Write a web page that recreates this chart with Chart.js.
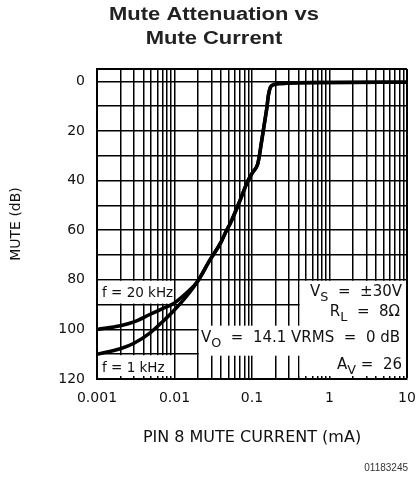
<!DOCTYPE html>
<html>
<head>
<meta charset="utf-8">
<script src="https://cdn.jsdelivr.net/npm/chart.js@4.4.0/dist/chart.umd.min.js"></script>
<style>
  body { margin: 0; background: #fff; }
</style>
</head>
<body>
<canvas id="grafico" width="417" height="480"></canvas>
<script>
const tituloLinhas = ['Mute Attenuation vs', 'Mute Current'];
const rotuloX = 'PIN 8 MUTE CURRENT (mA)';
const rotuloY = 'MUTE (dB)';
const rodape = '01183245';

// curva f = 20 kHz (parte baixa)
const corrente20k = [0.001, 0.002, 0.003, 0.0048, 0.007, 0.0095, 0.014, 0.0195];
const mute20k = [100, 98.5, 97.0, 94.0, 91.6, 89.8, 85.5, 81.0];
// curva f = 1 kHz (parte baixa)
const corrente1k = [0.001, 0.002, 0.003, 0.0048, 0.007, 0.0095, 0.014, 0.0195];
const mute1k = [110, 107.8, 105.6, 101.5, 96.9, 92.9, 87.0, 81.0];
// trecho comum as duas curvas
const correnteComum = [0.0287, 0.04, 0.047, 0.052, 0.068, 0.089, 0.103, 0.118, 0.123, 0.131, 0.139, 0.148, 0.156, 0.163, 0.172, 0.19, 0.25, 1, 10];
const muteComum = [72.0, 64.7, 60.0, 57.5, 49.0, 40.0, 36.5, 33.5, 30.9, 25.5, 20.4, 15.0, 10.3, 5.5, 2.5, 1.3, 0.8, 0.4, 0.3];

const decadas = [0.001, 0.01, 0.1, 1, 10];
const rotulosDecadas = ['0.001', '0.01', '0.1', '1', '10'];
const gradeY = [-5, 0, 10, 20, 30, 40, 50, 60, 70, 80, 90, 100, 110, 120];
const rotulosY = ['0', '20', '40', '60', '80', '100', '120'];

const pontos = (xs, ys) => xs.map((v, i) => ({x: v, y: ys[i]}));

const fonteTexto = (tam) => tam + 'px "DejaVu Sans", sans-serif';

// escreve texto com subscrito, alinhado pela direita ou esquerda
function textoSub(ctx, partes, xRef, yBase, tam, alinhar) {
    let larg = 0;
    for (const p of partes) {
        ctx.font = fonteTexto(p[1] ? tam * 0.85 : tam);
        larg += ctx.measureText(p[0]).width;
    }
    let xx = alinhar === 'right' ? xRef - larg : xRef;
    ctx.textAlign = 'left';
    ctx.textBaseline = 'alphabetic';
    for (const p of partes) {
        ctx.font = fonteTexto(p[1] ? tam * 0.85 : tam);
        ctx.fillText(p[0], xx, yBase + (p[1] ? 5 : 0));
        xx += ctx.measureText(p[0]).width;
    }
}

const caixasPlugin = {
    id: 'caixas',
    beforeDatasetsDraw(chart) {
        const {ctx, chartArea, scales: {x, y}} = chart;
        const ret = (x1, y1, x2, y2) => ctx.fillRect(x1, y1, x2 - x1, y2 - y1);
        ctx.save();
        ctx.fillStyle = '#fff';
        // f = 20 kHz
        ret(chartArea.left + 1.5, y.getPixelForValue(80) + 1, x.getPixelForValue(0.01) - 1, y.getPixelForValue(90) - 1);
        // f = 1 kHz
        ret(chartArea.left + 1.5, y.getPixelForValue(110) + 1, x.getPixelForValue(0.01) - 1, chartArea.bottom - 3);
        // Vs / Rl
        ret(x.getPixelForValue(0.4) + 1, y.getPixelForValue(80) + 1, chartArea.right - 1, y.getPixelForValue(100));
        // Vo
        ret(x.getPixelForValue(0.02) + 1, y.getPixelForValue(98.5), chartArea.right - 1, y.getPixelForValue(110) + 1.5);
        // Av
        ret(x.getPixelForValue(0.4) + 1, y.getPixelForValue(110), chartArea.right - 1, chartArea.bottom - 3);
        ctx.restore();
    },
    afterDatasetsDraw(chart) {
        const {ctx, chartArea, scales: {y}} = chart;
        ctx.save();
        ctx.fillStyle = '#111';
        const esq = chartArea.left + 5;
        const dir = chartArea.right - 5;
        textoSub(ctx, [['f = 20 kHz']], esq, y.getPixelForValue(87), 13.5, 'left');
        textoSub(ctx, [['f = 1 kHz']], esq, y.getPixelForValue(117.2), 13.5, 'left');
        textoSub(ctx, [['V'], ['S', true], ['  =  ±30V']], dir, y.getPixelForValue(86.5), 15, 'right');
        textoSub(ctx, [['R'], ['L', true], ['  =  8Ω']], dir - 2, y.getPixelForValue(94.6), 15, 'right');
        textoSub(ctx, [['V'], ['O', true], ['  =  14.1 VRMS  =  0 dB']], dir - 2, y.getPixelForValue(105), 15, 'right');
        textoSub(ctx, [['A'], ['V', true], [' =  26']], dir, y.getPixelForValue(116), 15, 'right');
        ctx.restore();
    }
};

const tituloPlugin = {
    id: 'titulo',
    afterDraw(chart) {
        const ctx = chart.ctx;
        ctx.save();
        ctx.fillStyle = '#222';
        ctx.font = 'bold 18px "Liberation Sans", Arial, sans-serif';
        ctx.textAlign = 'center';
        ctx.textBaseline = 'alphabetic';
        tituloLinhas.forEach((t, i) => {
            ctx.save();
            ctx.translate(214, 19.5 + i * 24);
            ctx.scale(1.22, 1);
            ctx.fillText(t, 0, 0);
            ctx.restore();
        });
        ctx.font = '10px "Liberation Sans", Arial, sans-serif';
        ctx.textAlign = 'right';
        ctx.fillStyle = '#333';
        ctx.fillText(rodape, 408, 471);
        ctx.restore();
    }
};

const estiloCurva = {
    borderColor: '#000',
    borderWidth: 3.5,
    pointRadius: 0,
    fill: false,
    cubicInterpolationMode: 'monotone'
};

const grafico = new Chart(document.getElementById('grafico'), {
    type: 'line',
    data: {
        datasets: [
            Object.assign({label: 'f = 20 kHz', data: pontos(corrente20k.concat(correnteComum), mute20k.concat(muteComum))}, estiloCurva),
            Object.assign({label: 'f = 1 kHz', data: pontos(corrente1k.concat(correnteComum), mute1k.concat(muteComum))}, estiloCurva)
        ]
    },
    options: {
        responsive: false,
        animation: false,
        layout: {padding: {top: 69, right: 0, bottom: 0, left: 0}},
        plugins: {
            legend: {display: false},
            tooltip: {enabled: false}
        },
        scales: {
            x: {
                type: 'logarithmic',
                min: 0.001,
                max: 10,
                afterBuildTicks: (eixo) => {
                    const ticks = [];
                    for (let d = 0; d < decadas.length - 1; d++) {
                        for (let k = 1; k <= 9; k++) ticks.push({value: decadas[d] * k});
                    }
                    ticks.push({value: decadas[decadas.length - 1]});
                    eixo.ticks = ticks;
                },
                afterFit: (eixo) => {
                    eixo.height = 101;
                    eixo.paddingRight = 10;
                    eixo.paddingLeft = 0;
                },
                grid: {
                    color: '#000',
                    lineWidth: (c) => (c.tick && c.tick.value === 10) ? 2 : 1.5,
                    drawTicks: false
                },
                border: {color: '#000', width: 2},
                ticks: {
                    autoSkip: false,
                    maxRotation: 0,
                    minRotation: 0,
                    padding: 11,
                    color: '#111',
                    font: {family: '"DejaVu Sans", sans-serif', size: 14},
                    callback: (v) => {
                        const i = decadas.findIndex(d => Math.abs(d - v) < d * 1e-6);
                        return i >= 0 ? rotulosDecadas[i] : '';
                    }
                },
                title: {
                    display: true,
                    text: rotuloX,
                    color: '#111',
                    font: {family: '"DejaVu Sans", sans-serif', size: 16},
                    padding: {top: 0, bottom: 33}
                }
            },
            y: {
                type: 'linear',
                reverse: true,
                min: -5,
                max: 120,
                afterBuildTicks: (eixo) => { eixo.ticks = gradeY.map(v => ({value: v})); },
                afterFit: (eixo) => { eixo.width = 97; },
                grid: {
                    color: '#000',
                    lineWidth: (c) => (c.tick && c.tick.value === -5) ? 2 : 1.5,
                    drawTicks: false
                },
                border: {color: '#000', width: 2},
                ticks: {
                    autoSkip: false,
                    padding: 12,
                    color: '#111',
                    font: {family: '"DejaVu Sans", sans-serif', size: 14},
                    callback: (v) => rotulosY.includes(String(v)) ? String(v) : ''
                },
                title: {
                    display: true,
                    text: rotuloY,
                    color: '#111',
                    font: {family: '"DejaVu Sans", sans-serif', size: 14},
                    padding: {top: 8, bottom: 0}
                }
            }
        }
    },
    plugins: [caixasPlugin, tituloPlugin]
});
</script>
</body>
</html>
